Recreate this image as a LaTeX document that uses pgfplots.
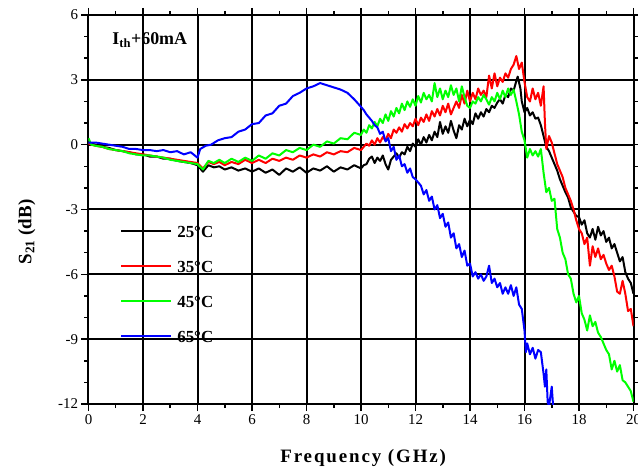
\documentclass[border=0pt]{standalone}
\usepackage{fontspec}
\setmainfont{Liberation Serif}
\usepackage{pgfplots}
\pgfplotsset{compat=1.18}
\begin{document}
\begin{tikzpicture}
\useasboundingbox (-88.5bp,-68bp) rectangle (549.5bp,404bp);
\begin{axis}[
  at={(0,0)}, anchor=south west,
  scale only axis, width=545bp, height=389bp,
  xmin=0, xmax=20, ymin=-12, ymax=6,
  xtick={0,2,...,20}, ytick={-12,-9,...,6},
  minor x tick num=1, minor y tick num=2,
  tick align=outside,
  major tick length=7bp, minor tick length=4bp,
  every tick/.style={black, line width=1.5bp},
  axis line style={line width=2bp},
  grid=major,
  major grid style={black, line width=2bp, solid},
  /pgf/number format/assume math mode=true,
  tick label style={font=\fontsize{15}{15}\selectfont},
  xlabel={\addfontfeatures{LetterSpace=10}Frequency (GHz)},
  ylabel={S\textsubscript{21} (dB)},
  xlabel style={font=\fontsize{19}{19}\selectfont\bfseries, at={(axis description cs:0.504,-0.139)}, anchor=center},
  ylabel style={font=\fontsize{19}{19}\selectfont\bfseries, at={(axis description cs:-0.113,0.442)}, anchor=center, rotate=0},
  legend style={at={(axis description cs:0.058,0.463)}, anchor=north west, draw=none, fill=none,
     inner sep=0pt, row sep=21bp, column sep=4bp,
     font=\fontsize{17}{17}\selectfont\bfseries,
     nodes={inner sep=1bp, text height=12bp, text depth=0bp}},
  legend cell align=left,
  legend image code/.code={\draw[#1] (0bp,0bp) -- (50bp,0bp);},
  every axis plot/.append style={line width=2bp, line join=round},
]
\addplot[black] coordinates {
(0,0.1)(0.25,0.0)(0.5,-0.1)(0.75,-0.15)(1,-0.25)(1.25,-0.3)(1.5,-0.35)(1.75,-0.45)(2,-0.45)(2.25,-0.55)(2.5,-0.55)(2.75,-0.65)(3,-0.65)(3.25,-0.75)(3.5,-0.8)(3.75,-0.85)(4,-0.95)(4.2,-1.25)(4.4,-0.95)(4.6,-1.05)(4.8,-1.0)(5,-1.15)(5.25,-1.05)(5.5,-1.2)(5.75,-1.1)(6,-1.25)(6.25,-1.1)(6.5,-1.3)(6.75,-1.15)(7,-1.4)(7.25,-1.1)(7.5,-1.25)(7.75,-1.05)(8,-1.3)(8.25,-1.1)(8.5,-1.2)(8.75,-1.0)(9,-1.25)(9.25,-1.05)(9.5,-1.15)(9.75,-0.95)
(10,-1.1)(10.1,-0.95)(10.2,-0.9)(10.3,-0.65)(10.4,-0.55)(10.5,-0.85)(10.6,-0.6)(10.7,-0.75)(10.8,-0.5)(10.9,-0.9)(11,-1.15)(11.1,-0.7)(11.2,-0.55)(11.3,-0.4)(11.4,-0.6)(11.5,-0.35)(11.6,-0.45)(11.7,-0.1)(11.8,-0.3)(11.9,0.05)(12,-0.1)(12.1,0.25)(12.2,0.0)(12.3,0.35)(12.4,0.1)(12.5,0.45)(12.6,0.2)(12.7,0.6)(12.8,0.35)(12.9,1.05)(13,0.5)(13.1,0.85)(13.2,0.55)(13.3,1.1)(13.4,0.65)(13.5,0.3)(13.6,0.9)(13.7,0.7)(13.8,1.2)(13.9,0.85)(14,1.15)(14.1,0.95)(14.2,1.45)(14.3,1.2)(14.4,1.5)(14.5,1.3)(14.6,1.65)(14.7,1.5)(14.8,1.8)(14.9,1.7)(15,1.95)(15.1,2.1)(15.2,1.9)(15.3,2.3)(15.4,2.2)(15.5,2.6)(15.6,2.5)(15.7,2.95)(15.75,3.15)(15.85,2.6)(15.9,2.0)(16,1.5)(16.1,1.7)(16.2,1.35)(16.3,1.5)(16.4,1.2)(16.5,1.25)(16.6,0.9)(16.7,0.4)(16.8,-0.1)(16.9,-0.3)(17,-0.6)(17.1,-0.9)(17.2,-1.2)(17.3,-1.6)(17.4,-1.9)(17.5,-2.2)(17.6,-2.45)(17.7,-2.9)(17.8,-3.1)(17.9,-3.3)(18,-3.35)(18.1,-3.7)(18.2,-3.5)(18.3,-4.1)(18.4,-4.3)(18.5,-3.9)(18.6,-4.4)(18.7,-3.8)(18.8,-4.2)(18.9,-4.0)(19,-4.5)(19.1,-4.3)(19.2,-4.8)(19.3,-4.6)(19.4,-5.0)(19.5,-5.4)(19.6,-5.2)(19.7,-5.9)(19.8,-6.2)(19.9,-6.4)(20,-6.9)
};
\addlegendentry{25\textdegree C}
\addplot[red] coordinates {
(0,0.05)(0.25,-0.05)(0.5,-0.1)(0.75,-0.2)(1,-0.25)(1.25,-0.3)(1.5,-0.35)(1.75,-0.4)(2,-0.45)(2.25,-0.5)(2.5,-0.55)(2.75,-0.6)(3,-0.65)(3.25,-0.7)(3.5,-0.75)(3.75,-0.8)(4,-0.85)(4.2,-1.1)(4.4,-0.8)(4.6,-0.9)(4.8,-0.8)(5,-0.95)(5.25,-0.8)(5.5,-0.9)(5.75,-0.7)(6,-0.85)(6.25,-0.7)(6.5,-0.85)(6.75,-0.65)(7,-0.75)(7.25,-0.6)(7.5,-0.7)(7.75,-0.5)(8,-0.6)(8.25,-0.45)(8.5,-0.55)(8.75,-0.35)(9,-0.45)(9.25,-0.3)(9.5,-0.35)(9.75,-0.15)
(10,-0.25)(10.1,-0.1)(10.2,0.05)(10.3,-0.05)(10.4,0.2)(10.5,0.0)(10.6,0.3)(10.7,0.1)(10.8,0.35)(10.9,0.2)(11,0.5)(11.1,0.3)(11.2,0.7)(11.3,0.55)(11.4,0.8)(11.5,0.6)(11.6,0.95)(11.7,0.75)(11.8,1.0)(11.9,0.85)(12,1.2)(12.1,0.9)(12.2,1.25)(12.3,1.05)(12.4,1.4)(12.5,1.1)(12.6,1.55)(12.7,1.3)(12.8,1.65)(12.9,1.35)(13,1.8)(13.1,1.5)(13.2,1.9)(13.3,1.4)(13.4,1.7)(13.5,2.0)(13.6,1.7)(13.7,2.3)(13.8,1.9)(13.9,2.5)(14,2.0)(14.1,2.4)(14.2,2.1)(14.3,2.6)(14.4,2.3)(14.5,2.5)(14.6,2.2)(14.7,3.2)(14.8,2.6)(14.9,3.3)(15,2.7)(15.1,3.1)(15.2,2.9)(15.3,3.3)(15.4,3.1)(15.5,3.5)(15.6,3.7)(15.7,4.1)(15.8,3.5)(15.9,3.8)(16,2.9)(16.1,2.2)(16.2,2.0)(16.3,2.6)(16.4,2.1)(16.5,2.4)(16.6,1.8)(16.7,2.7)(16.75,1.0)(16.8,-0.2)(16.9,0.4)(17,0.1)(17.1,-0.4)(17.2,-0.9)(17.3,-1.2)(17.4,-1.5)(17.5,-2.0)(17.6,-2.3)(17.7,-2.6)(17.8,-3.0)(17.9,-3.5)(18,-3.9)(18.1,-4.1)(18.2,-4.6)(18.3,-4.3)(18.4,-5.6)(18.5,-4.7)(18.6,-5.2)(18.7,-4.8)(18.8,-5.3)(18.9,-5.1)(19,-5.5)(19.1,-5.8)(19.2,-5.6)(19.3,-6.1)(19.4,-6.8)(19.5,-6.9)(19.6,-6.3)(19.7,-6.9)(19.8,-7.7)(19.9,-7.6)(20,-8.4)
};
\addlegendentry{35\textdegree C}
\addplot[color={rgb,255:red,0;green,255;blue,0}] coordinates {
(0,0.3)(0.1,0.0)(0.25,-0.05)(0.5,-0.1)(0.75,-0.2)(1,-0.25)(1.25,-0.3)(1.5,-0.4)(1.75,-0.45)(2,-0.5)(2.25,-0.5)(2.5,-0.55)(2.75,-0.6)(3,-0.7)(3.25,-0.75)(3.5,-0.8)(3.75,-0.85)(4,-0.9)(4.2,-1.15)(4.4,-0.75)(4.6,-0.85)(4.8,-0.7)(5,-0.85)(5.25,-0.65)(5.5,-0.8)(5.75,-0.6)(6,-0.75)(6.25,-0.5)(6.5,-0.65)(6.75,-0.4)(7,-0.5)(7.25,-0.25)(7.5,-0.35)(7.75,-0.15)(8,-0.25)(8.25,0.0)(8.5,-0.1)(8.75,0.15)(9,0.05)(9.25,0.3)(9.5,0.25)(9.75,0.55)
(10,0.45)(10.1,0.7)(10.2,0.55)(10.3,0.9)(10.4,0.75)(10.5,1.05)(10.6,0.85)(10.7,1.2)(10.8,1.0)(10.9,1.4)(11,1.1)(11.1,1.55)(11.2,1.3)(11.3,1.7)(11.4,1.45)(11.5,1.9)(11.6,1.6)(11.7,2.0)(11.8,1.75)(11.9,2.1)(12,1.8)(12.1,2.25)(12.2,1.95)(12.3,2.4)(12.4,2.1)(12.5,2.3)(12.6,2.0)(12.7,2.85)(12.8,2.2)(12.9,2.6)(13,2.1)(13.1,2.5)(13.2,2.2)(13.3,2.75)(13.4,2.3)(13.5,2.6)(13.6,2.0)(13.7,2.7)(13.8,2.2)(13.9,1.8)(14,1.7)(14.1,2.0)(14.2,1.9)(14.3,2.2)(14.4,2.0)(14.5,2.3)(14.6,2.1)(14.7,1.85)(14.8,2.2)(14.9,2.0)(15,2.4)(15.1,2.1)(15.2,2.5)(15.3,2.2)(15.4,2.6)(15.5,2.3)(15.6,2.55)(15.7,2.0)(15.8,1.4)(15.9,0.6)(16,0.2)(16.1,-0.6)(16.2,-0.2)(16.3,-0.5)(16.4,-0.3)(16.5,-0.55)(16.6,-0.2)(16.7,-1.3)(16.8,-2.2)(16.9,-2.0)(17,-2.6)(17.1,-2.5)(17.2,-3.9)(17.3,-4.3)(17.4,-5.0)(17.5,-5.3)(17.6,-6.0)(17.7,-6.2)(17.8,-6.9)(17.9,-7.3)(18,-7.0)(18.1,-7.8)(18.2,-8.1)(18.3,-8.6)(18.4,-7.9)(18.5,-8.4)(18.6,-8.2)(18.7,-8.7)(18.8,-8.9)(18.9,-9.2)(19,-9.5)(19.1,-9.7)(19.2,-10.4)(19.3,-10.0)(19.4,-10.5)(19.5,-10.2)(19.6,-10.9)(19.7,-11.0)(19.8,-11.2)(19.9,-11.4)(20,-11.9)
};
\addlegendentry{45\textdegree C}
\addplot[blue] coordinates {
(0,0.1)(0.25,0.1)(0.5,0.05)(0.75,0.0)(1,-0.05)(1.25,-0.1)(1.5,-0.2)(1.75,-0.2)(2,-0.25)(2.25,-0.25)(2.5,-0.3)(2.75,-0.25)(3,-0.35)(3.25,-0.3)(3.5,-0.45)(3.75,-0.35)(4,-0.6)(4.1,-0.2)(4.3,-0.05)(4.5,0.0)(4.75,0.2)(5,0.3)(5.25,0.35)(5.5,0.6)(5.75,0.7)(6,0.95)(6.25,1.0)(6.5,1.35)(6.75,1.45)(7,1.8)(7.25,1.9)(7.5,2.25)(7.75,2.4)(8,2.6)(8.25,2.7)(8.5,2.85)(8.75,2.75)(9,2.65)(9.25,2.55)(9.5,2.4)(9.75,2.1)
(10,1.75)(10.1,1.6)(10.2,1.4)(10.3,1.25)(10.4,1.1)(10.5,0.9)(10.6,0.8)(10.7,0.5)(10.8,0.6)(10.9,0.15)(11,0.3)(11.1,-0.3)(11.2,-0.1)(11.3,-0.7)(11.4,-0.5)(11.5,-1.0)(11.6,-0.9)(11.7,-1.3)(11.8,-1.1)(11.9,-1.5)(12,-1.6)(12.1,-1.75)(12.2,-1.9)(12.3,-2.3)(12.4,-2.1)(12.5,-2.6)(12.6,-2.4)(12.7,-3.0)(12.8,-2.8)(12.9,-3.4)(13,-3.2)(13.1,-3.8)(13.2,-3.6)(13.3,-4.3)(13.4,-4.1)(13.5,-4.8)(13.6,-4.6)(13.7,-5.2)(13.8,-4.9)(13.9,-5.6)(14,-5.5)(14.1,-6.1)(14.2,-5.9)(14.3,-6.2)(14.4,-6.0)(14.5,-6.3)(14.6,-6.1)(14.7,-5.6)(14.8,-6.4)(14.9,-6.2)(15,-6.6)(15.1,-6.4)(15.2,-6.9)(15.3,-6.6)(15.4,-6.9)(15.5,-6.5)(15.6,-7.0)(15.7,-6.6)(15.8,-7.4)(15.9,-7.6)(16,-8.6)(16.05,-9.6)(16.1,-9.2)(16.2,-9.7)(16.3,-9.4)(16.4,-9.9)(16.5,-9.5)(16.6,-9.6)(16.7,-10.6)(16.75,-11.2)(16.8,-10.4)(16.85,-11.9)(16.9,-12.1)(17,-11.2)(17.05,-12.1)
};
\addlegendentry{65\textdegree C}
\node[anchor=west, font=\fontsize{18}{18}\selectfont\bfseries] at (axis cs:0.75,4.85) {I\textsubscript{th}+60mA};
\end{axis}
\end{tikzpicture}
\end{document}
